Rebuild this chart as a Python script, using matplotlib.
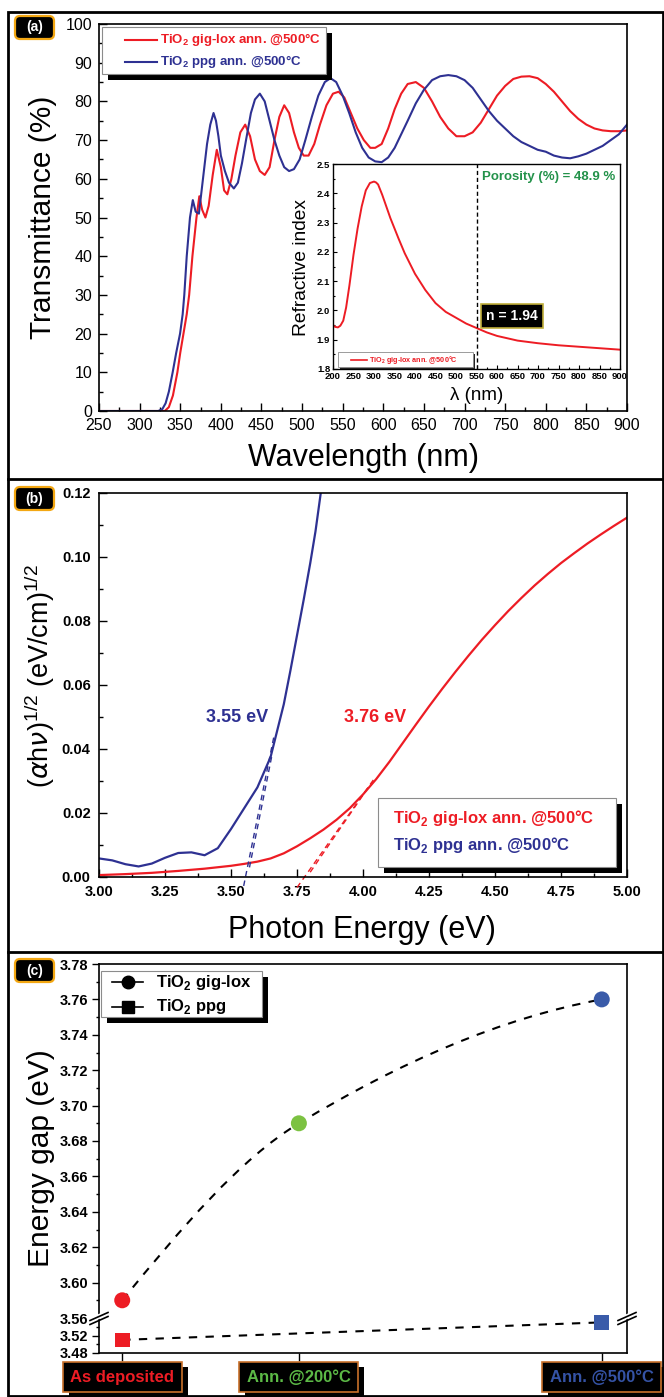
import numpy as np
import matplotlib
matplotlib.use("Agg")
import matplotlib.pyplot as plt
import matplotlib.ticker as mticker
from matplotlib.lines import Line2D
from matplotlib.patches import Rectangle, FancyBboxPatch, PathPatch
from matplotlib.path import Path
from matplotlib.transforms import IdentityTransform

# ------------------------------------------------------------------ data
# (a) transmittance spectra
wl_giglox = [250, 300, 331, 336, 341, 346.5, 350, 354, 358, 361, 365, 370, 373.5, 377, 381, 385,
             390, 395, 400, 404, 408, 413, 418, 424, 430, 436, 442, 448, 454, 460, 466, 472,
             478, 484, 490, 496, 502, 508, 515, 522, 530, 538, 545, 552, 560, 568, 576, 584,
             590, 598, 606, 614, 622, 630, 640, 650, 660, 670, 680, 690, 700, 710, 720, 730,
             740, 750, 760, 770, 780, 790, 800, 810, 820, 830, 840, 850, 860, 870, 880, 890, 900]
T_giglox = [0, 0, 0, 1, 4, 10, 15, 20, 25, 30, 40, 50, 55.5, 52, 50, 53,
            61, 67.5, 63, 57, 56, 60, 66, 72, 74, 71, 65, 62, 61, 63, 70, 76,
            79, 77, 72, 68, 66, 66, 69, 74, 79, 82, 82.5, 81, 77, 73, 70, 68,
            68, 69, 73, 78, 82, 84.5, 85, 83.5, 80, 76, 73, 71, 71, 72, 74.5, 78,
            81.5, 84, 85.8, 86.4, 86.5, 86, 84.5, 82.5, 80, 77.5, 75.5, 74, 73, 72.5, 72.3, 72.3, 72.5]
wl_ppg = [250, 300, 323, 328, 332, 336, 340.7, 345, 349.8, 353, 355, 358, 362, 365.5, 369, 373,
          378, 383, 387, 391, 394, 397, 400, 405, 410, 416, 421, 426, 431, 437, 442, 448,
          454, 460, 466, 472, 478, 484, 490, 497, 504, 512, 520, 528, 535, 542, 550, 558,
          566, 574, 582, 590, 598, 606, 614, 622, 630, 640, 650, 660, 670, 680, 690, 700,
          710, 720, 730, 740, 750, 760, 770, 780, 790, 800, 810, 820, 830, 840, 850, 860,
          870, 880, 890, 900]
T_ppg = [0, 0, 0, 0.5, 2, 5, 10, 15, 20, 25, 30, 40, 50, 54.5, 51.5, 51,
         60, 69, 74, 77, 75, 71, 66, 62, 59, 57.5, 59, 64, 70, 77, 80.5, 82,
         80, 75, 70, 66, 63, 62, 62.5, 65, 70, 76, 81.5, 85, 86, 85, 81.5, 77,
         72, 68, 65.5, 64.5, 64.3, 65.5, 68, 71.5, 75, 79.5, 83, 85.5, 86.5, 86.8, 86.5, 85.5,
         83.5, 80.5, 77.5, 75, 73, 71, 69.5, 68.5, 67.5, 67, 66, 65.5, 65.3, 65.8, 66.5, 67.5,
         68.5, 70, 71.5, 74]

# (a) inset: refractive index
lam_n = [200, 205, 212, 218, 225, 232, 240, 250, 260, 270, 280, 290, 300, 305, 310, 320, 330,
         340, 350, 360, 375, 400, 425, 450, 475, 500, 525, 550, 575, 600, 650, 700, 750, 800, 850, 900]
n_giglox = [1.95, 1.944, 1.942, 1.948, 1.965, 2.01, 2.085, 2.19, 2.28, 2.355, 2.41, 2.435, 2.44,
            2.437, 2.43, 2.395, 2.355, 2.315, 2.28, 2.245, 2.195, 2.125, 2.07, 2.025, 1.995,
            1.975, 1.955, 1.94, 1.925, 1.913, 1.897, 1.888, 1.881, 1.876, 1.871, 1.866]
n_wavelength_mark = 550
porosity_pct = 48.9
n_at_mark = 1.94

# (b) Tauc plots
E_giglox = [3.00, 3.10, 3.20, 3.30, 3.40, 3.50, 3.55, 3.60, 3.65, 3.70, 3.75, 3.80, 3.85, 3.90,
            3.95, 4.00, 4.05, 4.10, 4.15, 4.20, 4.25, 4.30, 4.35, 4.40, 4.45, 4.50, 4.55, 4.60,
            4.65, 4.70, 4.75, 4.80, 4.85, 4.90, 4.95, 5.00]
ahv_giglox = [0.0006, 0.0009, 0.0013, 0.0019, 0.0026, 0.0035, 0.0041, 0.0048, 0.0058, 0.0074,
              0.0096, 0.0121, 0.0148, 0.0179, 0.0215, 0.0258, 0.0306, 0.0360, 0.0418, 0.0476,
              0.0533, 0.0588, 0.0641, 0.0692, 0.0741, 0.0787, 0.0831, 0.0872, 0.0911, 0.0947,
              0.0981, 0.1012, 0.1042, 0.1070, 0.1097, 0.1123]
E_ppg = [3.00, 3.05, 3.10, 3.15, 3.20, 3.25, 3.30, 3.35, 3.40, 3.45, 3.50, 3.55, 3.60, 3.65,
         3.70, 3.725, 3.75, 3.775, 3.80, 3.82, 3.84]
ahv_ppg = [0.0058, 0.0052, 0.0040, 0.0033, 0.0042, 0.0060, 0.0075, 0.0077, 0.0068, 0.0090,
           0.0150, 0.0215, 0.0280, 0.0375, 0.0540, 0.0645, 0.0755, 0.0865, 0.0980, 0.1080, 0.1200]
tan_ppg_E = [[3.548, 3.662], [3.570, 3.655]]
tan_ppg_y = [[-0.0028, 0.0437], [0.0030, 0.0380]]
tan_giglox_E = [[3.750, 4.045], [3.800, 4.020]]
tan_giglox_y = [[-0.0033, 0.0310], [0.0015, 0.0280]]
gap_label_ppg = "3.55 eV"
gap_label_giglox = "3.76 eV"

# (c) energy gap vs treatment
stage_labels = ["As deposited", "Ann. @200°C", "Ann. @500°C"]
stage_T = [25, 200, 500]
gap_giglox = [3.59, 3.69, 3.76]
ppg_T = [25, 500]
gap_ppg = [3.51, 3.55]

# ------------------------------------------------------------------ style
RED = "#ed1c24"
NAVY = "#2e3192"
GREEN_TXT = "#23924a"
C_STAGE = ["#ed1c24", "#7cc242", "#3a5ba9"]
C_STAGE_TXT = ["#ed1c24", "#5cb946", "#3553a5"]

plt.rcParams["font.family"] = ["Liberation Sans", "DejaVu Sans"]
plt.rcParams["mathtext.fontset"] = "custom"
plt.rcParams["mathtext.rm"] = "Liberation Sans"
plt.rcParams["mathtext.it"] = "DejaVu Sans:italic"
plt.rcParams["mathtext.bf"] = "Liberation Sans:bold"

W, H = 664, 1397
DPI = 100
fig = plt.figure(figsize=(W / DPI, H / DPI), dpi=DPI)
T_IN = fig.dpi_scale_trans


def rect(l, t, r, b):
    return [l / W, 1 - b / H, (r - l) / W, (b - t) / H]


def P(x, y):
    return x / DPI, (H - y) / DPI


def fline(xs, ys, **kw):
    fig.add_artist(Line2D([x / DPI for x in xs], [(H - y) / DPI for y in ys], transform=T_IN, **kw))


def fbox(l, t, r, b, **kw):
    fig.add_artist(Rectangle(P(l, b), (r - l) / DPI, (b - t) / DPI, transform=T_IN, **kw))


def ftext(x, y, s, **kw):
    fig.text(*P(x, y), s, transform=T_IN, **kw)


def bold_ticks(ax):
    for lab in ax.get_xticklabels(which="both") + ax.get_yticklabels(which="both"):
        lab.set_fontweight("bold")


def panel_tag(t, b, s):
    fig.add_artist(FancyBboxPatch(P(15, b), 39 / DPI, (b - t) / DPI,
                                  boxstyle="round,pad=0,rounding_size=0.05",
                                  transform=T_IN, fc="black", ec="#f3a712", lw=1.6, zorder=30))
    ftext(34.5, (t + b) / 2, s, color="white", fontweight="bold", fontsize=10,
          ha="center", va="center", zorder=31)


# ------------------------------------------------------------------ panel (a)
ax = fig.add_axes(rect(99, 24, 627, 411))
ax.plot(wl_giglox, T_giglox, color=RED, lw=1.5)
ax.plot(wl_ppg, T_ppg, color=NAVY, lw=1.5)
ax.set_xlim(250, 900)
ax.set_ylim(0, 100)
ax.xaxis.set_major_locator(mticker.MultipleLocator(50))
ax.xaxis.set_minor_locator(mticker.MultipleLocator(25))
ax.yaxis.set_major_locator(mticker.MultipleLocator(10))
ax.yaxis.set_minor_locator(mticker.MultipleLocator(5))
ax.tick_params(which="both", direction="in", width=1.0, labelsize=11.5)
ax.tick_params(which="major", length=5.5, pad=5)
ax.tick_params(which="minor", length=3)
for s in ax.spines.values():
    s.set_linewidth(1.2)
ftext(43, 217, "Transmittance (%)", rotation=90, ha="center", va="center", fontsize=21.5)
ftext(364, 458, "Wavelength (nm)", ha="center", va="center", fontsize=22)

# legend (a)
fbox(108, 33, 332, 80, fc="black", ec="none", zorder=10)
fbox(102, 27, 326, 74, fc="white", ec="#8c8c8c", lw=0.8, zorder=11)
fline([125, 157], [40, 40], color=RED, lw=1.5, zorder=12)
fline([125, 157], [62, 62], color=NAVY, lw=1.5, zorder=12)
ftext(160, 40, r"TiO$_\mathbf{2}$ gig-lox ann. @500°C", color=RED, fontweight="bold",
      fontsize=9.5, va="center", zorder=13)
ftext(160, 62, r"TiO$_\mathbf{2}$ ppg ann. @500°C", color=NAVY, fontweight="bold",
      fontsize=9.5, va="center", zorder=13)

# inset
axi = fig.add_axes(rect(333, 164, 620, 369))
axi.plot(lam_n, n_giglox, color=RED, lw=1.4)
axi.axvline(n_wavelength_mark, color="black", ls=(0, (3, 2)), lw=1.0)
axi.set_xlim(200, 900)
axi.set_ylim(1.8, 2.5)
axi.xaxis.set_major_locator(mticker.MultipleLocator(50))
axi.xaxis.set_minor_locator(mticker.MultipleLocator(25))
axi.yaxis.set_major_locator(mticker.MultipleLocator(0.1))
axi.yaxis.set_minor_locator(mticker.MultipleLocator(0.05))
axi.yaxis.set_major_formatter(mticker.FormatStrFormatter("%.1f"))
axi.tick_params(which="both", direction="in", labelsize=6.8, width=0.8, pad=2)
axi.tick_params(which="major", length=3)
axi.tick_params(which="minor", length=1.5)
for s in axi.spines.values():
    s.set_linewidth(1.0)
bold_ticks(axi)
axi.text(563, 2.456, f"Porosity (%) = {porosity_pct} %", color=GREEN_TXT, fontweight="bold",
         fontsize=9.5, va="center")
axi.text(637, 1.981, f"n = {n_at_mark:.2f}", color="white", fontweight="bold", fontsize=10,
         ha="center", va="center",
         bbox=dict(boxstyle="square,pad=0.35", fc="black", ec="#bfae3a", lw=1.2))
ftext(301, 267, "Refractive index", rotation=90, ha="center", va="center", fontsize=13.8)
ftext(477, 396, "λ (nm)", ha="center", va="center", fontsize=13.5)
# inset legend
fbox(340, 354, 475, 369, fc="#222222", ec="none", zorder=10)
fbox(338, 352, 473, 367, fc="white", ec="#8c8c8c", lw=0.6, zorder=11)
fline([351, 367], [359.5, 359.5], color=RED, lw=1.2, zorder=12)
ftext(369, 359.5, r"TiO$_\mathbf{2}$ gig-lox ann. @500°C", color=RED, fontweight="bold",
      fontsize=5.2, va="center", zorder=13)

# ------------------------------------------------------------------ panel (b)
axb = fig.add_axes(rect(99, 493, 627, 877))
axb.plot(E_giglox, ahv_giglox, color=RED, lw=1.6)
axb.plot(E_ppg, ahv_ppg, color=NAVY, lw=1.6)
for xs, ys in zip(tan_ppg_E, tan_ppg_y):
    axb.plot(xs, ys, color=NAVY, lw=1.0, ls=(0, (4, 3)), clip_on=False)
for xs, ys in zip(tan_giglox_E, tan_giglox_y):
    axb.plot(xs, ys, color=RED, lw=1.0, ls=(0, (4, 3)), clip_on=False)
axb.set_xlim(3.0, 5.0)
axb.set_ylim(0, 0.12)
axb.xaxis.set_major_locator(mticker.MultipleLocator(0.25))
axb.xaxis.set_minor_locator(mticker.MultipleLocator(0.125))
axb.yaxis.set_major_locator(mticker.MultipleLocator(0.02))
axb.yaxis.set_minor_locator(mticker.MultipleLocator(0.01))
axb.xaxis.set_major_formatter(mticker.FormatStrFormatter("%.2f"))
axb.yaxis.set_major_formatter(mticker.FormatStrFormatter("%.2f"))
axb.tick_params(which="both", direction="in", width=1.0, labelsize=10.5)
axb.tick_params(which="major", length=5.5, pad=6)
axb.tick_params(which="minor", length=3)
for s in axb.spines.values():
    s.set_linewidth(1.2)
bold_ticks(axb)
axb.text(3.522, 0.0499, gap_label_ppg, color=NAVY, fontweight="bold", fontsize=13,
         ha="center", va="center")
axb.text(4.045, 0.0499, gap_label_giglox, color=RED, fontweight="bold", fontsize=13,
         ha="center", va="center")
ftext(40, 676, r"($\alpha$h$\nu$)$^{\mathit{1/2}}$ (eV/cm)$^{\mathit{1/2}}$", rotation=90,
      ha="center", va="center", fontsize=19.5)
ftext(362, 930, "Photon Energy (eV)", ha="center", va="center", fontsize=22)
# legend (b)
fbox(384, 804, 622, 873, fc="black", ec="none", zorder=10)
fbox(378, 798, 616, 867, fc="white", ec="#8c8c8c", lw=0.8, zorder=11)
ftext(393, 818, r"TiO$_\mathbf{2}$ gig-lox ann. @500°C", color=RED, fontweight="bold",
      fontsize=12, va="center", zorder=13)
ftext(393, 845, r"TiO$_\mathbf{2}$ ppg ann. @500°C", color=NAVY, fontweight="bold",
      fontsize=12, va="center", zorder=13)

# ------------------------------------------------------------------ panel (c)
axu = fig.add_axes(rect(99, 964, 627, 1318))
axl = fig.add_axes(rect(99, 1318, 627, 1353))
for a in (axu, axl):
    a.set_xlim(2, 525)
    for s in a.spines.values():
        s.set_linewidth(1.2)
axu.set_ylim(3.58, 3.78)
axl.set_ylim(3.48, 3.56)
axu.spines["bottom"].set_visible(False)
axl.spines["top"].set_visible(False)
axu.set_xticks([])
axl.set_xticks(stage_T)
axl.set_xticklabels([])
axu.yaxis.set_major_locator(mticker.FixedLocator(np.round(np.arange(3.60, 3.781, 0.02), 2)))
axu.yaxis.set_minor_locator(mticker.FixedLocator(np.round(np.arange(3.59, 3.78, 0.02), 2)))
axl.yaxis.set_major_locator(mticker.FixedLocator([3.48, 3.52, 3.56]))
axl.yaxis.set_minor_locator(mticker.FixedLocator([3.50, 3.54]))
for a in (axu, axl):
    a.yaxis.set_major_formatter(mticker.FormatStrFormatter("%.2f"))
    a.tick_params(which="both", direction="out", width=1.0, labelsize=10.5)
    a.tick_params(which="major", length=5, pad=3)
    a.tick_params(which="minor", length=2.5)
    bold_ticks(a)
axl.tick_params(axis="x", length=6)

# smooth dashed connector through the gig-lox points (cubic Hermite -> Bezier)
xg = np.array(stage_T, float)
yg = np.array(gap_giglox, float)
h = np.diff(xg)
d = np.diff(yg) / h
m = np.zeros_like(yg)
m[1] = (3 * h[0] + 3 * h[1]) / ((2 * h[1] + h[0]) / d[0] + (h[1] + 2 * h[0]) / d[1])
m[0] = ((2 * h[0] + h[1]) * d[0] - h[0] * d[1]) / (h[0] + h[1])
m[2] = max(((2 * h[1] + h[0]) * d[1] - h[1] * d[0]) / (h[0] + h[1]), 0.45 * d[1])
verts = [(xg[0], yg[0])]
codes = [Path.MOVETO]
for i in range(len(xg) - 1):
    verts += [(xg[i] + h[i] / 3, yg[i] + m[i] * h[i] / 3),
              (xg[i + 1] - h[i] / 3, yg[i + 1] - m[i + 1] * h[i] / 3),
              (xg[i + 1], yg[i + 1])]
    codes += [Path.CURVE4] * 3
axu.add_patch(PathPatch(Path(verts, codes), fill=False, ec="black", lw=1.5,
                        ls=(0, (4, 4)), zorder=2))
axu.scatter(stage_T, gap_giglox, marker="o", s=11.5 ** 2, c=C_STAGE, edgecolors="none", zorder=3)
axl.plot(ppg_T, gap_ppg, color="black", lw=1.5, ls=(0, (4, 4)), zorder=2)
axl.scatter(ppg_T, gap_ppg, marker="s", s=10.5 ** 2, c=[C_STAGE[0], C_STAGE[2]],
            edgecolors="none", zorder=3, clip_on=False)

# category labels as boxed tick labels
cat_anns = []
for T, lab, col in zip(stage_T, stage_labels, C_STAGE_TXT):
    a = axl.annotate(lab, xy=(T, 0), xycoords=("data", "axes fraction"), xytext=(0, -17.3),
                     textcoords="offset points", ha="center", va="center", fontsize=12,
                     fontweight="bold", color=col, annotation_clip=False, zorder=5,
                     bbox=dict(boxstyle="square,pad=0.45", fc="black", ec="#c8702a", lw=1.2))
    cat_anns.append(a)

# axis-break marks
for xp in (99, 627):
    yp = 1318
    fline([xp - 7, xp + 7], [yp + 1.5, yp - 4.5], color="white", lw=3.5, zorder=20,
          solid_capstyle="butt")
    fline([xp - 9, xp + 9], [yp + 2.5, yp - 5.5], color="black", lw=1.2, zorder=21)
    fline([xp - 9, xp + 9], [yp + 6.5, yp - 1.5], color="black", lw=1.2, zorder=21)

ftext(41, 1158, "Energy gap (eV)", rotation=90, ha="center", va="center", fontsize=21.5)

# legend (c)
fbox(107, 977, 268, 1023, fc="black", ec="none", zorder=10)
fbox(101, 971, 262, 1017, fc="white", ec="#8c8c8c", lw=0.8, zorder=11)
fline([112, 143], [982, 982], color="black", lw=1.2, zorder=12)
fline([112, 143], [1007, 1007], color="black", lw=1.2, zorder=12)
fline([128], [982], color="black", marker="o", ms=9, ls="none", zorder=12)
fline([128], [1007], color="black", marker="s", ms=8.5, ls="none", zorder=12)
ftext(156, 982, r"TiO$_\mathbf{2}$ gig-lox", fontweight="bold", fontsize=12, va="center", zorder=13)
ftext(156, 1007, r"TiO$_\mathbf{2}$ ppg", fontweight="bold", fontsize=12, va="center", zorder=13)

# ------------------------------------------------------------------ frame & panel tags
fig.add_artist(Rectangle(P(8, 1396), (663 - 8) / DPI, (1396 - 12) / DPI, transform=T_IN,
                         fill=False, ec="black", lw=2.0, zorder=40))
fline([8, 664], [479, 479], color="black", lw=2.0, zorder=40)
fline([8, 664], [952, 952], color="black", lw=2.0, zorder=40)
panel_tag(16, 39, "(a)")
panel_tag(487, 510, "(b)")
panel_tag(959, 982, "(c)")

# drop shadows behind the category label boxes
fig.canvas.draw()
renderer = fig.canvas.get_renderer()
for a in cat_anns:
    bb = a.get_bbox_patch().get_window_extent(renderer)
    axl.add_artist(Rectangle((bb.x0 + 6, bb.y0 - 5), bb.width, bb.height,
                             transform=IdentityTransform(), fc="black", ec="none",
                             zorder=4, clip_on=False))

fig.savefig("out.png", dpi=DPI)
